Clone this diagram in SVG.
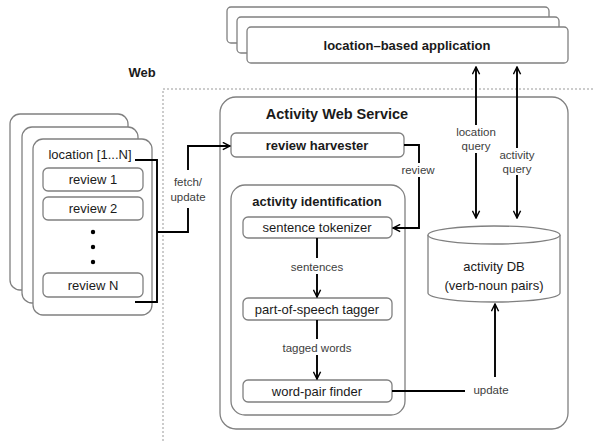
<svg xmlns="http://www.w3.org/2000/svg" width="593" height="441" viewBox="0 0 593 441">
<defs>
<marker id="ah" viewBox="0 0 10 10" refX="9" refY="5" markerWidth="9" markerHeight="9" markerUnits="userSpaceOnUse" orient="auto-start-reverse">
<path d="M1,1 L9,5 L1,9" fill="none" stroke="#000" stroke-width="1.6"/>
</marker>
</defs>
<style>
.box{fill:#fff;stroke:#808080;stroke-width:1.3}
.edge{fill:none;stroke:#000;stroke-width:1.9}
.t{font-family:"Liberation Sans",Arial,sans-serif;font-size:13px;fill:#1a1a1a;text-anchor:middle}
.b{font-weight:bold}
.lbl{font-family:"Liberation Sans",Arial,sans-serif;font-size:11.5px;fill:#404040;text-anchor:middle}
.dash{fill:none;stroke:#999;stroke-width:1;stroke-dasharray:2,2}
</style>
<rect width="593" height="441" fill="#fff"/>
<path class="dash" d="M163,441 V89 H593"/>
<text class="t b" x="142" y="77">Web</text>

<g id="app">
<rect class="box" x="227" y="7" width="322" height="36" rx="4"/>
<rect class="box" x="237" y="17" width="322" height="36" rx="4"/>
<rect class="box" x="247" y="27" width="321" height="36" rx="4"/>
<text class="t b" x="407" y="50">location–based application</text>
</g>

<g id="locations">
<rect class="box" x="10" y="114" width="118" height="176" rx="10"/>
<rect class="box" x="22" y="127" width="116" height="176" rx="10"/>
<rect class="box" x="33" y="139" width="119" height="176" rx="10"/>
<text class="t" x="90" y="159">location [1...N]</text>
<rect class="box" x="43" y="168" width="100" height="23" rx="5"/>
<text class="t" x="93" y="184">review 1</text>
<rect class="box" x="43" y="197" width="100" height="23" rx="5"/>
<text class="t" x="93" y="213">review 2</text>
<circle cx="93" cy="232" r="2.2" fill="#000"/>
<circle cx="93" cy="247" r="2.2" fill="#000"/>
<circle cx="93" cy="262" r="2.2" fill="#000"/>
<rect class="box" x="43" y="273" width="100" height="24" rx="5"/>
<text class="t" x="93" y="290">review N</text>
</g>

<g id="aws">
<rect class="box" x="220" y="97" width="348" height="332" rx="16"/>
<text class="t b" x="337" y="119" style="font-size:14.5px">Activity Web Service</text>
</g>

<g id="harvester">
<rect class="box" x="231" y="133" width="173" height="24" rx="5"/>
<text class="t b" x="317" y="150">review harvester</text>
</g>

<g id="identification">
<rect class="box" x="231" y="185" width="174" height="230" rx="14"/>
<text class="t b" x="317" y="206">activity identification</text>
</g>

<g id="tokenizer">
<rect class="box" x="243" y="217" width="149" height="21" rx="5"/>
<text class="t" x="317" y="232">sentence tokenizer</text>
</g>
<g id="tagger">
<rect class="box" x="243" y="298" width="149" height="22" rx="5"/>
<text class="t" x="317" y="314">part-of-speech tagger</text>
</g>
<g id="finder">
<rect class="box" x="243" y="380" width="149" height="22" rx="5"/>
<text class="t" x="317" y="396">word-pair finder</text>
</g>

<g id="db">
<path class="box" d="M428,235 V293 A66,9 0 0 0 560,293 V235"/>
<ellipse class="box" cx="494" cy="235" rx="66" ry="9"/>
<text class="t" x="494" y="271">activity DB</text>
<text class="t" x="494" y="290">(verb-noun pairs)</text>
</g>

<g id="connectors">
<path class="edge" d="M135,160 H157 V302 H135"/>
<path class="edge" d="M157,232 H188 V208"/>
<path class="edge" d="M188,170 V146 H230" marker-end="url(#ah)"/>
<text class="lbl" x="188" y="186">fetch/</text>
<text class="lbl" x="188" y="201">update</text>

<path class="edge" d="M404,145 H419 V163"/>
<path class="edge" d="M419,177 V228 H393" marker-end="url(#ah)"/>
<text class="lbl" x="418" y="174">review</text>

<path class="edge" d="M317,238 V258"/>
<path class="edge" d="M317,274 V297" marker-end="url(#ah)"/>
<text class="lbl" x="317" y="271">sentences</text>

<path class="edge" d="M317,320 V339"/>
<path class="edge" d="M317,355 V379" marker-end="url(#ah)"/>
<text class="lbl" x="317" y="352">tagged words</text>

<path class="edge" d="M476,67 V125" marker-start="url(#ah)"/>
<path class="edge" d="M476,153 V218" marker-end="url(#ah)"/>
<text class="lbl" x="476" y="136">location</text>
<text class="lbl" x="476" y="150">query</text>

<path class="edge" d="M517,67 V148" marker-start="url(#ah)"/>
<path class="edge" d="M517,175 V218" marker-end="url(#ah)"/>
<text class="lbl" x="517" y="159">activity</text>
<text class="lbl" x="517" y="173">query</text>

<path class="edge" d="M392,391 H465"/>
<path class="edge" d="M495,377 V304" marker-end="url(#ah)"/>
<text class="lbl" x="491" y="394">update</text>
</g>
</svg>
